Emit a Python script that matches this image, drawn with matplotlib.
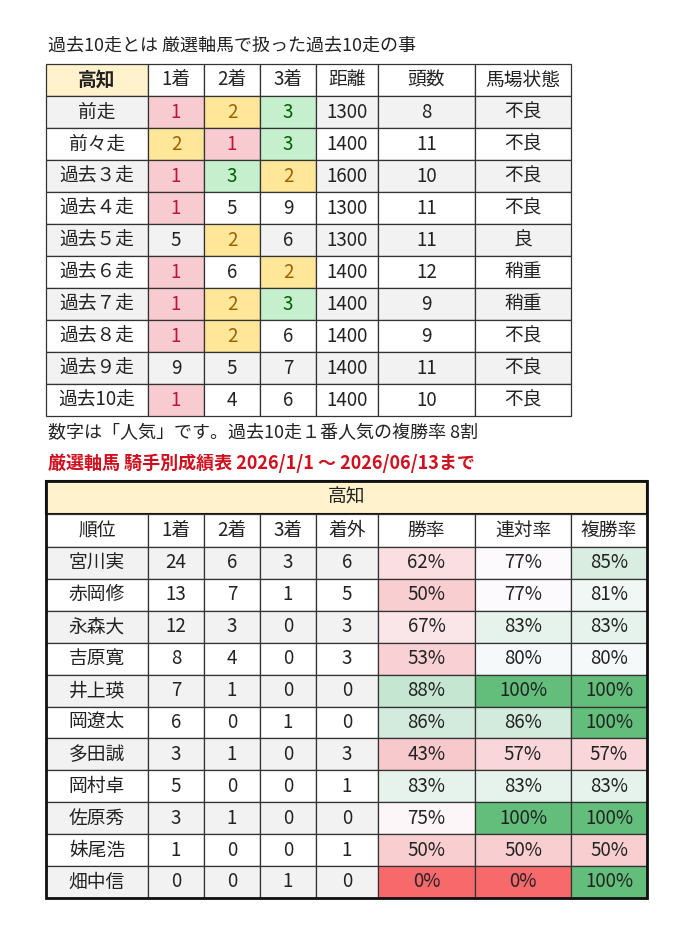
import matplotlib
matplotlib.use("Agg")
import matplotlib.pyplot as plt
from matplotlib.patches import Rectangle
import numpy as np

plt.rcParams['font.family'] = ['Noto Sans CJK JP', 'DejaVu Sans']

# ---- data ----
t1_cols = ["高知", "1着", "2着", "3着", "距離", "頭数", "馬場状態"]
t1_rows = ["前走", "前々走", "過去３走", "過去４走", "過去５走", "過去６走", "過去７走", "過去８走", "過去９走", "過去10走"]
pos1 = [1, 2, 1, 1, 5, 1, 1, 1, 9, 1]
pos2 = [2, 1, 3, 5, 2, 6, 2, 2, 5, 4]
pos3 = [3, 3, 2, 9, 6, 2, 3, 6, 7, 6]
distance = [1300, 1400, 1600, 1300, 1300, 1400, 1400, 1400, 1400, 1400]
heads = [8, 11, 10, 11, 11, 12, 9, 9, 11, 10]
track = ["不良", "不良", "不良", "不良", "良", "稍重", "稍重", "不良", "不良", "不良"]

t2_cols = ["順位", "1着", "2着", "3着", "着外", "勝率", "連対率", "複勝率"]
jockeys = ["宮川実", "赤岡修", "永森大", "吉原寛", "井上瑛", "岡遼太", "多田誠", "岡村卓", "佐原秀", "妹尾浩", "畑中信"]
first = [24, 13, 12, 8, 7, 6, 3, 5, 3, 1, 0]
second = [6, 7, 3, 4, 1, 0, 1, 0, 1, 0, 0]
third = [3, 1, 0, 0, 0, 1, 0, 0, 0, 0, 1]
outside = [6, 5, 3, 3, 0, 0, 3, 1, 0, 1, 0]
win_rate = [62, 50, 67, 53, 88, 86, 43, 83, 75, 50, 0]
quinella_rate = [77, 77, 83, 80, 100, 86, 57, 83, 100, 50, 0]
place_rate = [85, 81, 83, 80, 100, 100, 57, 83, 100, 50, 100]

W, H = 693, 933
fig = plt.figure(figsize=(W/100, H/100), dpi=100)
ax = fig.add_axes([0, 0, 1, 1])
ax.set_xlim(0, W); ax.set_ylim(H, 0); ax.axis('off')

FS = 13.5
GRAY = "#F2F2F2"
HEAD = "#FFF2CC"
rank_fill = {1: "#F8CBD0", 2: "#FFE699", 3: "#C6EFCE"}
rank_text = {1: "#C0143C", 2: "#9C6500", 3: "#006100"}

def cell(x0, x1, y0, y1, text, fill="white", color="#222222", bold=False, lw=0.9):
    ax.add_patch(Rectangle((x0, y0), x1-x0, y1-y0, facecolor=fill, edgecolor="#333333", lw=lw))
    ax.text((x0+x1)/2, (y0+y1)/2, text, ha='center', va='center', fontsize=FS,
            color=color, fontweight='bold' if bold else 'normal')

ax.text(48, 46, "過去10走とは 厳選軸馬で扱った過去10走の事", fontsize=13, va='center', color="#222222")

xs1 = [46, 148, 204, 260, 316, 378, 475, 571]
y0 = 64; rh = 32
for j, c in enumerate(t1_cols):
    cell(xs1[j], xs1[j+1], y0, y0+rh, c, fill=HEAD if j == 0 else "white", bold=(j == 0))
for i, r in enumerate(t1_rows):
    ya = y0 + rh*(i+1); yb = ya + rh
    base = GRAY if i % 2 == 0 else "white"
    vals = [r, pos1[i], pos2[i], pos3[i], distance[i], heads[i], track[i]]
    for j, v in enumerate(vals):
        fill, col = base, "#222222"
        if j in (1, 2, 3) and v in rank_fill:
            fill, col = rank_fill[v], rank_text[v]
        cell(xs1[j], xs1[j+1], ya, yb, str(v), fill=fill, color=col)

ax.text(48, 433, "数字は「人気」です。過去10走１番人気の複勝率 8割", fontsize=13, va='center', color="#222222")
ax.text(48, 463, "厳選軸馬 騎手別成績表 2026/1/1 ～ 2026/06/13まで", fontsize=13, va='center',
        color="#D0101E", fontweight='bold')

# fixed color scale: red at 0, white near 78, green at 100
red = np.array([248, 105, 107]) / 255; wht = np.array([252, 252, 255]) / 255; grn = np.array([99, 190, 123]) / 255
pink = np.array([248, 200, 203]) / 255
def color_of(x):
    if x <= 40:
        c = red + (pink - red) * (x / 40)
    elif x <= 78:
        c = pink + (wht - pink) * ((x - 40) / 38) ** 1.6
    else:
        c = wht + (grn - wht) * ((x - 78) / 22) ** 1.3
    return tuple(np.clip(c, 0, 1))

xs2 = [46, 148, 204, 260, 316, 378, 475, 571, 647]
ty = 481
ax.add_patch(Rectangle((46, ty), 647-46, 33, facecolor=HEAD, edgecolor="#111111", lw=1.5))
ax.text((46+647)/2, ty+16.5, "高知", ha='center', va='center', fontsize=FS, color="#222222")
hy = ty + 33
for j, c in enumerate(t2_cols):
    cell(xs2[j], xs2[j+1], hy, hy+33, c)
ry = hy + 33; rh2 = 31.9
for i, name in enumerate(jockeys):
    ya = ry + rh2*i; yb = ya + rh2
    base = GRAY if i % 2 == 0 else "white"
    vals = [name, first[i], second[i], third[i], outside[i]]
    for j, v in enumerate(vals):
        cell(xs2[j], xs2[j+1], ya, yb, str(v), fill=base)
    for k, arr in enumerate([win_rate, quinella_rate, place_rate]):
        cell(xs2[5+k], xs2[6+k], ya, yb, f"{arr[i]}%", fill=color_of(arr[i]))
ax.add_patch(Rectangle((46, ty), 647-46, ry + rh2*11 - ty, fill=False, edgecolor="#111111", lw=2))

fig.savefig("out.png", dpi=100)
